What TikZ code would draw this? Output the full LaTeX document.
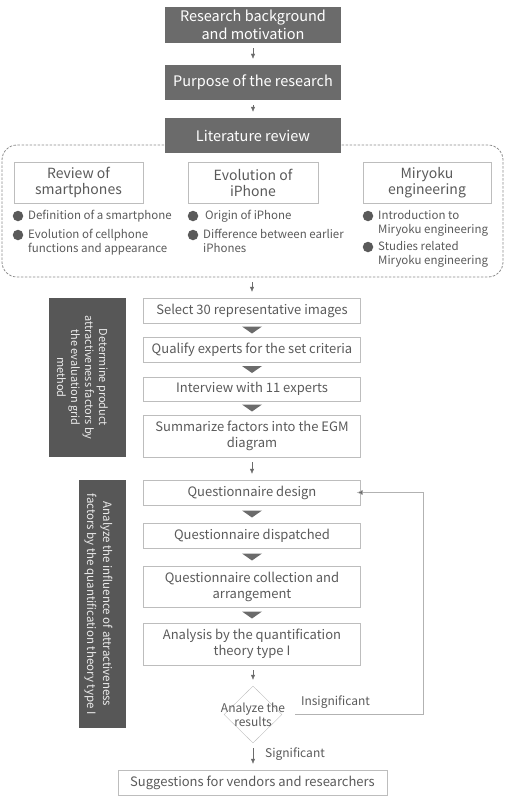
\documentclass[tikz,border=0pt]{standalone}
\usepackage{fontspec}
\setmainfont{Noto Sans CJK TC}
\usetikzlibrary{arrows.meta,shapes.geometric,calc,positioning}

\definecolor{darkbox}{HTML}{6B6B6B}
\definecolor{sidebox}{HTML}{575757}
\definecolor{txtgray}{HTML}{5A5A5A}
\definecolor{linegray}{HTML}{BDBDBD}

\tikzset{
  topbox/.style={draw=none, fill=darkbox, text=white, inner sep=0pt, align=center,
    minimum width=176pt, font=\fontsize{14.5}{18}\selectfont},
  subbox/.style={draw=linegray, fill=white, text=txtgray, inner sep=0pt, align=center,
    minimum height=41pt, font=\fontsize{14}{16}\selectfont},
  sectbox/.style={draw=linegray, text=txtgray, inner sep=0pt, align=center,
    minimum width=217pt, font=\fontsize{13}{16}\selectfont},
  sidebar/.style={fill=sidebox, inner sep=0pt},
  sidetext/.style={text=white!92!black, inner sep=0pt, align=center, rotate=-90},
  item/.style={text=txtgray, inner sep=0pt, anchor=north west, align=left,
    font=\fontsize{11.5}{14}\selectfont},
  dot/.style={circle, fill=txtgray, inner sep=0pt, minimum size=10.5pt},
  smallarrow/.style={draw=darkbox, -{Latex[length=5pt,width=4.5pt]}, shorten <=5pt, shorten >=6pt},
  tri/.style={fill=darkbox},
  decision/.style={diamond, draw=linegray, inner sep=0pt, minimum width=58pt, minimum height=57pt},
  lbl/.style={text=txtgray, inner sep=0pt, font=\fontsize{12}{14}\selectfont}
}

\begin{document}
\begin{tikzpicture}[x=1pt,y=-1pt]
  \useasboundingbox (0,0) rectangle (506,800);

  % literature frame
  \node[draw=gray!90, line width=0.8pt, dash pattern=on 2.5pt off 1.5pt, rounded corners=15pt,
    minimum width=501pt, minimum height=132pt, inner sep=0pt] (litframe) at (252.5,211) {};

  % top of the flow
  \node[topbox, minimum height=36pt] (backgr) at (253,25) {Research background\\and motivation};
  \node[topbox, minimum height=35pt] (purpose) at (253,82.5) {Purpose of the research};
  \node[topbox, minimum height=35pt] (litrev) at (253,135.5) {Literature review};
  \draw[smallarrow] (backgr) -- (purpose);
  \draw[smallarrow] (purpose) -- (litrev);

  % three topics
  \node[subbox, minimum width=129pt] (revsmart) at (78.5,182.5) {Review of\\smartphones};
  \node[subbox, minimum width=130pt] (evoiphone) at (253,182.5) {Evolution of\\iPhone};
  \node[subbox, minimum width=128pt] (miryoku) at (427,182.5) {Miryoku\\engineering};
  \foreach \x/\y/\n/\txt in {
      18/216/da/{Definition of a smartphone},
      18/235/db/{Evolution of cellphone\\functions and appearance},
      193/216/dc/{\,Origin of iPhone},
      193/235/dd/{Difference between earlier\\iPhones},
      368/216/de/{Introduction to\\Miryoku engineering},
      368/247/df/{Studies related\\Miryoku engineering}}
  {
    \node[dot] (\n) at (\x,\y) {};
    \node[item] (\n t) at ([xshift=10pt,yshift=6pt]\n.center) {\txt};
  }

  % evaluation grid method
  \node[sidebar, minimum width=77pt, minimum height=159pt] (egmbar) at (87.5,377.5) {};
  \node[sidetext, font=\fontsize{11}{14}\selectfont] (egmtxt) at ([xshift=-5pt]egmbar.center)
    {Determine product\\attractiveness factors by\\the evaluation grid\\method};
  \node[sectbox, minimum height=25pt] (select) at (252,310.5) {Select 30 representative images};
  \node[sectbox, minimum height=25pt] (qualify) at (252,349.5) {Qualify experts for the set criteria};
  \node[sectbox, minimum height=24pt] (interview) at (252,389) {Interview with 11 experts};
  \node[sectbox, minimum height=42pt] (summarize) at (252,436) {Summarize factors into the EGM\\diagram};
  \draw[smallarrow] (litframe.south -| select) -- (select);

  % quantification theory type I
  \node[sidebar, minimum width=47pt, minimum height=248pt] (qtbar) at (102.5,604) {};
  \node[sidetext, font=\fontsize{11.5}{16}\selectfont] (qttxt) at ([xshift=-4pt]qtbar.center)
    {Analyze the influence of attractiveness\\factors by the quantification theory type I};
  \node[sectbox, minimum height=25pt] (design) at (252,492.5) {Questionnaire design};
  \node[sectbox, minimum height=25pt] (dispatch) at (252,535.5) {Questionnaire dispatched};
  \node[sectbox, minimum height=41pt] (collect) at (252,586.5) {Questionnaire collection and\\arrangement};
  \node[sectbox, minimum height=42pt] (analysis) at (252,644) {Analysis by the quantification\\theory type I};
  \draw[smallarrow] (summarize) -- (design);

  \foreach \a/\b in {select/qualify, qualify/interview, interview/summarize,
                     design/dispatch, dispatch/collect, collect/analysis}
  {
    \fill[tri] ($(\a.south)!0.5!(\b.north)+(-10,-3.5)$) -- ++(20,0) -- ++(-10,7) -- cycle;
  }

  % decision and loop back
  \node[decision] (decide) at (253,714.5) {};
  \node[lbl, align=center] (decidetxt) at (decide.center) {Analyze the\\results};
  \draw[smallarrow] (analysis.south -| decide) -- (decide);
  \coordinate (turn) at (423,716);
  \draw[draw=gray!60, -{Latex[length=6pt,width=5pt,fill=darkbox]}, shorten <=13pt]
    (decide.east) -- (decide.east -| turn) -- (turn |- design.east) -- ([xshift=-4pt]design.east);
  \node[lbl] (insig) at (335.5,702) {Insignificant};

  \node[sectbox, minimum width=269pt, minimum height=25pt] (suggest) at (252.5,782.5)
    {Suggestions for vendors and researchers};
  \draw[smallarrow] (decide.south) -- (suggest.north -| decide);
  \node[lbl, anchor=west] (sig) at (265,754) {Significant};
\end{tikzpicture}
\end{document}
